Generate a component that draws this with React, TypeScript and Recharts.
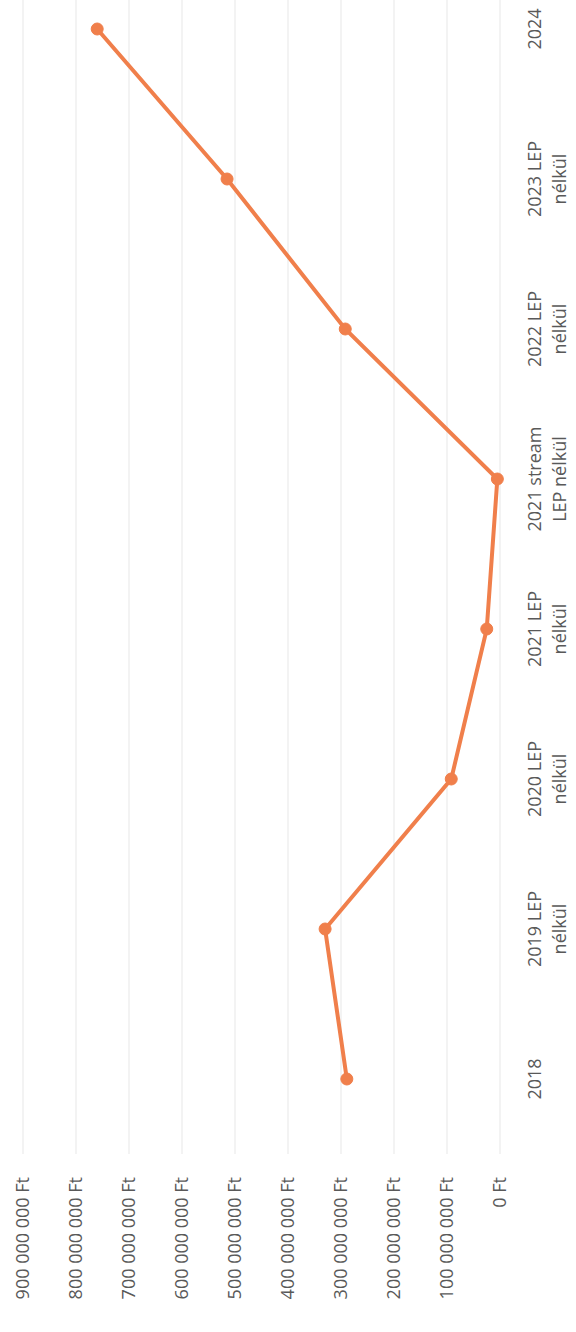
import { LineChart, Line, XAxis, YAxis, CartesianGrid } from 'recharts';

const categories = [
  '2018',
  '2019 LEP nélkül',
  '2020 LEP nélkül',
  '2021 LEP nélkül',
  '2021 stream LEP nélkül',
  '2022 LEP nélkül',
  '2023 LEP nélkül',
  '2024',
];

const amounts = [289000000, 330000000, 92000000, 25000000, 5000000, 292000000, 515000000, 760000000];

const yTicks = [0, 100000000, 200000000, 300000000, 400000000, 500000000, 600000000, 700000000, 800000000, 900000000];

const data = categories.map((name, i) => ({ name, value: amounts[i] }));

const ORANGE = '#F07F4B';
const TEXT = '#595959';
const FONT = '"Open Sans", sans-serif';

function formatFt(v: number) {
  return `${String(v).replace(/\B(?=(\d{3})+(?!\d))/g, ' ')} Ft`;
}

// break a category name into lines of at most ~11 chars
function wrap(label: string, max = 11) {
  const lines: string[] = [];
  let cur = '';
  for (const w of label.split(' ')) {
    if (cur && (cur + ' ' + w).length > max) {
      lines.push(cur);
      cur = w;
    } else {
      cur = cur ? cur + ' ' + w : w;
    }
  }
  if (cur) lines.push(cur);
  return lines;
}

function CategoryTick({ x, y, payload }: any) {
  const lines = wrap(payload.value);
  return (
    <text x={x} y={y + 41} textAnchor="middle" fill={TEXT} fontSize={18} fontFamily={FONT}>
      {lines.map((l, i) => (
        <tspan key={i} x={x} dy={i === 0 ? 0 : 25}>
          {l}
        </tspan>
      ))}
    </text>
  );
}

export default function App() {
  return (
    <div style={{ position: 'absolute', left: 0, top: 0, width: 576, height: 1332, overflow: 'hidden', background: '#fff' }}>
      <div
        style={{
          position: 'absolute',
          left: 0,
          top: 0,
          width: 1332,
          height: 576,
          transformOrigin: '0 0',
          transform: 'translateY(1332px) rotate(-90deg)',
        }}
      >
        <LineChart width={1332} height={576} data={data} margin={{ top: 23, right: 0, bottom: 0, left: 0 }}>
          <CartesianGrid vertical={false} stroke="#efefef" strokeWidth={1.5} />
          <XAxis
            dataKey="name"
            axisLine={false}
            tickLine={false}
            tickSize={0}
            tickMargin={0}
            height={76}
            interval={0}
            padding={{ left: 75, right: 29 }}
            tick={<CategoryTick />}
          />
          <YAxis
            domain={[0, 900000000]}
            ticks={yTicks}
            width={178}
            axisLine={false}
            tickLine={false}
            tickSize={0}
            tickMargin={23}
            tickFormatter={formatFt}
            tick={{ fill: TEXT, fontSize: 18, fontFamily: FONT }}
          />
          <Line
            type="linear"
            dataKey="value"
            stroke={ORANGE}
            strokeWidth={4}
            dot={{ r: 6, fill: ORANGE, stroke: ORANGE, strokeWidth: 1 }}
            isAnimationActive={false}
          />
        </LineChart>
      </div>
    </div>
  );
}
